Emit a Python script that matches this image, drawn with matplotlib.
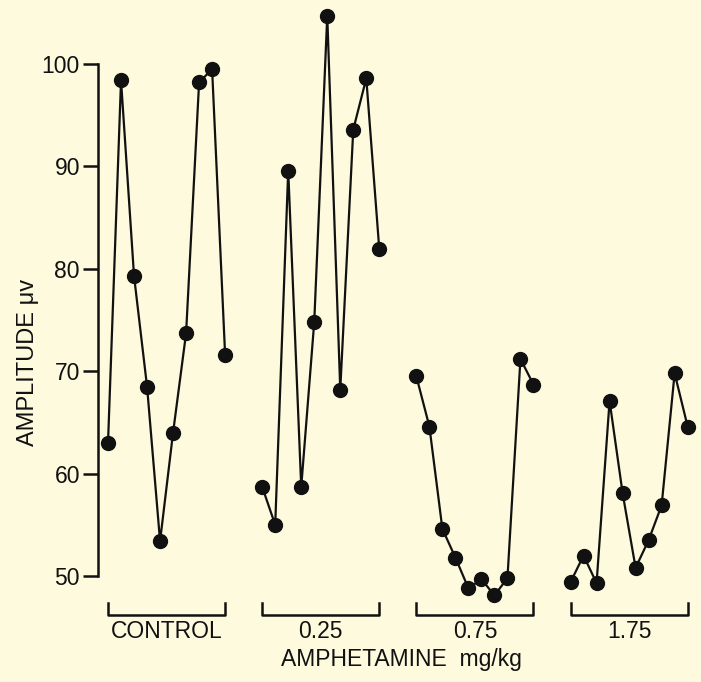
import numpy as np
import matplotlib
matplotlib.use('Agg')
import matplotlib.pyplot as plt

# amplitude (uV) per session, 10 sessions for each dose group
groups = ['CONTROL', '0.25', '0.75', '1.75']
control = [63.0, 98.4, 79.3, 68.5, 53.4, 64.0, 73.7, 98.2, 99.5, 71.6]
dose_025 = [58.7, 55.0, 89.6, 58.7, 74.8, 104.7, 68.2, 93.6, 98.6, 81.9]
dose_075 = [69.5, 64.6, 54.6, 51.8, 48.8, 49.7, 48.1, 49.8, 71.2, 68.7]
dose_175 = [49.4, 52.0, 49.3, 67.1, 58.1, 50.8, 53.5, 56.9, 69.8, 64.6]
yticks = [50, 60, 70, 80, 90, 100]

series = [control, dose_025, dose_075, dose_175]
bg = '#fefadd'
ink = '#111111'
gap = 11.85  # offset between groups

plt.rcParams['font.family'] = ['Liberation Sans', 'DejaVu Sans']

fig = plt.figure(figsize=(7.01, 6.82), dpi=100, facecolor=bg)
ax = fig.add_axes([98/701, 0, (700-98)/701, 1])
ax.set_facecolor(bg)

for g, vals in enumerate(series):
    x = g*gap + np.arange(len(vals))
    ax.plot(x, vals, '-o', color=ink, lw=1.6, ms=10, mfc=ink, mec=ink)
    # bracket under the group
    x0, x1 = x[0], x[-1]
    ax.plot([x0, x0, x1, x1], [47.4, 46.2, 46.2, 47.4], color=ink, lw=1.8)
    ax.text((x0+x1)/2, 44.6, groups[g], ha='center', va='center', fontsize=16.5, color=ink)

ax.text(1.5*gap + 4.8, 41.8, 'AMPHETAMINE  mg/kg', ha='center', va='center', fontsize=16.5, color=ink)

ax.set_xlim(-0.77, 45.5)
ax.set_ylim(39.65, 106.25)
ax.set_yticks(yticks)
ax.set_yticklabels([str(t) for t in yticks], fontsize=16.5, color=ink)
ax.tick_params(axis='y', length=11, width=1.8, pad=2, color=ink)
ax.set_xticks([])
ax.spines['left'].set_bounds(50, 100)
ax.spines['left'].set_linewidth(1.8)
ax.spines['left'].set_color(ink)
for s in ['top', 'right', 'bottom']:
    ax.spines[s].set_visible(False)

fig.text(28/701, (682-362)/682, 'AMPLITUDE μv', rotation=90, ha='center', va='center', fontsize=17, color=ink)

fig.savefig('out.png', dpi=100, facecolor=bg)
